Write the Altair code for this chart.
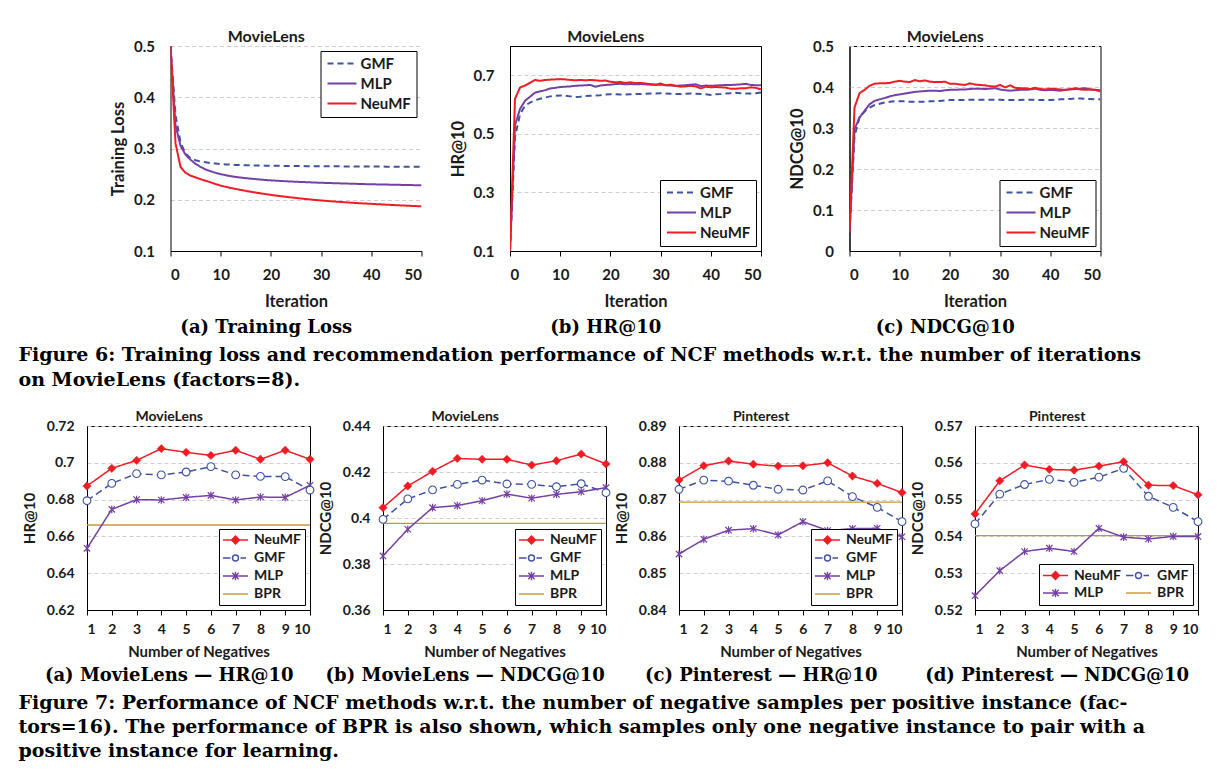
import altair as alt
import pandas as pd

# ---------------- data ----------------
ITER = list(range(51))
TOP_SERIES = ["GMF", "MLP", "NeuMF"]

LOSS_GMF = [0.500, 0.365, 0.312, 0.290, 0.281, 0.277, 0.2745, 0.273, 0.2715, 0.2705,
            0.2695, 0.269, 0.2685, 0.268, 0.2677, 0.2674, 0.2671, 0.2669, 0.2667, 0.2665,
            0.2663, 0.2662, 0.2661, 0.266, 0.2659, 0.2658, 0.2657, 0.2656, 0.2655, 0.2654,
            0.2654, 0.2653, 0.2652, 0.2652, 0.2651, 0.265, 0.265, 0.2649, 0.2649, 0.2648,
            0.2648, 0.2647, 0.2647, 0.2646, 0.2646, 0.2646, 0.2645, 0.2645, 0.2645, 0.2644, 0.2644]
LOSS_MLP = [0.500, 0.345, 0.305, 0.288, 0.278, 0.270, 0.264, 0.259, 0.2555, 0.2525,
            0.250, 0.2478, 0.246, 0.2445, 0.2432, 0.2421, 0.2411, 0.2402, 0.2393, 0.2385,
            0.2378, 0.2372, 0.2366, 0.2361, 0.2356, 0.2351, 0.2347, 0.2343, 0.2339, 0.2335,
            0.2331, 0.2328, 0.2325, 0.2322, 0.2319, 0.2316, 0.2313, 0.231, 0.2307, 0.2304,
            0.2302, 0.230, 0.2298, 0.2296, 0.2294, 0.2292, 0.229, 0.2288, 0.2286, 0.2284, 0.2282]
LOSS_NEUMF = [0.500, 0.310, 0.264, 0.2525, 0.247, 0.2435, 0.240, 0.237, 0.234, 0.2305,
              0.2275, 0.2252, 0.223, 0.221, 0.2191, 0.2173, 0.2156, 0.214, 0.2124, 0.2109,
              0.2095, 0.2082, 0.2069, 0.2057, 0.2046, 0.2035, 0.2024, 0.2014, 0.2004, 0.1995,
              0.1986, 0.1978, 0.197, 0.1963, 0.1956, 0.1949, 0.1942, 0.1936, 0.193, 0.1925,
              0.192, 0.1914, 0.1909, 0.1904, 0.1899, 0.1894, 0.1889, 0.1885, 0.188, 0.1876, 0.1872]

HR_GMF = [0.10, 0.49, 0.567, 0.596, 0.607, 0.615, 0.620, 0.624, 0.628, 0.630,
          0.631, 0.630, 0.628, 0.626, 0.627, 0.629, 0.630, 0.631, 0.632, 0.634,
          0.635, 0.635, 0.634, 0.634, 0.635, 0.636, 0.636, 0.637, 0.638, 0.638,
          0.639, 0.638, 0.637, 0.636, 0.636, 0.637, 0.638, 0.637, 0.636, 0.635,
          0.633, 0.635, 0.636, 0.638, 0.639, 0.640, 0.639, 0.638, 0.638, 0.639, 0.641]
HR_MLP = [0.10, 0.53, 0.585, 0.613, 0.627, 0.641, 0.645, 0.649, 0.655, 0.657,
          0.660, 0.661, 0.662, 0.664, 0.665, 0.666, 0.667, 0.661, 0.665, 0.667,
          0.668, 0.670, 0.671, 0.669, 0.670, 0.669, 0.670, 0.669, 0.668, 0.667,
          0.668, 0.666, 0.665, 0.664, 0.665, 0.666, 0.668, 0.669, 0.663, 0.665,
          0.664, 0.665, 0.666, 0.667, 0.667, 0.668, 0.669, 0.671, 0.667, 0.666, 0.666]
HR_NEUMF = [0.10, 0.62, 0.658, 0.665, 0.675, 0.684, 0.681, 0.684, 0.685, 0.686,
            0.687, 0.686, 0.684, 0.683, 0.684, 0.683, 0.684, 0.683, 0.681, 0.682,
            0.678, 0.676, 0.677, 0.674, 0.676, 0.673, 0.674, 0.672, 0.670, 0.668,
            0.672, 0.666, 0.668, 0.664, 0.661, 0.662, 0.664, 0.662, 0.655, 0.661,
            0.659, 0.660, 0.659, 0.658, 0.654, 0.654, 0.656, 0.656, 0.659, 0.657, 0.652]

NDCG_GMF = [0.045, 0.28, 0.326, 0.340, 0.350, 0.356, 0.359, 0.362, 0.364, 0.365,
            0.365, 0.365, 0.364, 0.364, 0.364, 0.364, 0.365, 0.365, 0.366, 0.367,
            0.368, 0.368, 0.368, 0.368, 0.369, 0.369, 0.369, 0.369, 0.369, 0.369,
            0.369, 0.368, 0.368, 0.368, 0.368, 0.369, 0.369, 0.369, 0.368, 0.368,
            0.368, 0.369, 0.370, 0.370, 0.371, 0.372, 0.372, 0.371, 0.371, 0.370, 0.370]
NDCG_MLP = [0.045, 0.297, 0.326, 0.342, 0.358, 0.366, 0.370, 0.373, 0.377, 0.380,
            0.382, 0.384, 0.386, 0.388, 0.389, 0.390, 0.391, 0.391, 0.390, 0.392,
            0.393, 0.393, 0.394, 0.394, 0.395, 0.396, 0.396, 0.395, 0.396, 0.397,
            0.394, 0.392, 0.391, 0.392, 0.393, 0.393, 0.394, 0.396, 0.393, 0.392,
            0.393, 0.392, 0.391, 0.393, 0.394, 0.395, 0.396, 0.397, 0.394, 0.393, 0.392]
NDCG_NEUMF = [0.045, 0.35, 0.385, 0.393, 0.403, 0.408, 0.409, 0.409, 0.410, 0.413,
              0.415, 0.413, 0.412, 0.417, 0.414, 0.416, 0.413, 0.412, 0.412, 0.413,
              0.408, 0.408, 0.406, 0.405, 0.409, 0.406, 0.405, 0.404, 0.402, 0.401,
              0.405, 0.399, 0.404, 0.398, 0.397, 0.397, 0.395, 0.398, 0.395, 0.394,
              0.396, 0.395, 0.394, 0.393, 0.395, 0.397, 0.394, 0.393, 0.394, 0.393, 0.389]

NEG = list(range(1, 11))
BOT_SERIES = ["NeuMF", "GMF", "MLP"]
LEG_SERIES = ["NeuMF", "GMF", "MLP", "BPR"]
LEG_SERIES_2COL = ["NeuMF", "MLP", "GMF", "BPR"]

ML_HR_NEUMF = [0.6874, 0.697, 0.7013, 0.7077, 0.7057, 0.704, 0.7068, 0.7019, 0.7068, 0.7019]
ML_HR_GMF = [0.6794, 0.6888, 0.6941, 0.6934, 0.695, 0.6979, 0.6934, 0.6926, 0.6925, 0.6852]
ML_HR_MLP = [0.6535, 0.6747, 0.680, 0.6798, 0.6812, 0.6823, 0.6798, 0.6814, 0.6812, 0.6878]
ML_HR_BPR = [0.6662]

ML_NDCG_NEUMF = [0.4045, 0.4139, 0.4203, 0.4259, 0.4255, 0.4255, 0.423, 0.4249, 0.4278, 0.4235]
ML_NDCG_GMF = [0.3994, 0.4083, 0.4122, 0.4146, 0.4165, 0.4148, 0.4146, 0.4136, 0.4149, 0.411]
ML_NDCG_MLP = [0.3835, 0.3951, 0.4045, 0.4054, 0.4075, 0.4104, 0.4086, 0.4103, 0.4114, 0.4132]
ML_NDCG_BPR = [0.3977]

PI_HR_NEUMF = [0.8753, 0.8792, 0.8805, 0.8796, 0.8791, 0.8792, 0.880, 0.8764, 0.8744, 0.8719]
PI_HR_GMF = [0.8728, 0.8753, 0.875, 0.8739, 0.8728, 0.8726, 0.8751, 0.8708, 0.8679, 0.864]
PI_HR_MLP = [0.8552, 0.8592, 0.8617, 0.8621, 0.8604, 0.864, 0.8616, 0.8621, 0.8622, 0.8599]
PI_HR_BPR = [0.8693]

PI_NDCG_NEUMF = [0.5461, 0.5551, 0.5594, 0.5582, 0.558, 0.5591, 0.5603, 0.5539, 0.5538, 0.5513]
PI_NDCG_GMF = [0.5434, 0.5515, 0.5541, 0.5555, 0.5547, 0.5561, 0.5585, 0.5509, 0.5479, 0.544]
PI_NDCG_MLP = [0.5239, 0.5307, 0.5359, 0.5368, 0.5359, 0.5422, 0.5398, 0.5393, 0.540, 0.540]
PI_NDCG_BPR = [0.5402]

TICKS_LOSS = [0.1, 0.2, 0.3, 0.4, 0.5]
TICKS_HR = [0.1, 0.3, 0.5, 0.7]
TICKS_NDCG = [0, 0.1, 0.2, 0.3, 0.4, 0.5]
TICKS_ML_HR = [0.62, 0.64, 0.66, 0.68, 0.7, 0.72]
TICKS_ML_NDCG = [0.36, 0.38, 0.4, 0.42, 0.44]
TICKS_PI_HR = [0.84, 0.85, 0.86, 0.87, 0.88, 0.89]
TICKS_PI_NDCG = [0.52, 0.53, 0.54, 0.55, 0.56, 0.57]
TICKS_ITER = [0, 10, 20, 30, 40, 50]

CAP6 = ["Figure 6: Training loss and recommendation performance of NCF methods w.r.t. the number of iterations",
        "on MovieLens (factors=8)."]
CAP7 = ["Figure 7: Performance of NCF methods w.r.t. the number of negative samples per positive instance (fac-",
        "tors=16). The performance of BPR is also shown, which samples only one negative instance to pair with a",
        "positive instance for learning."]

# ---------------- style ----------------
SANS = "Lato"
SERIF = "DejaVu Serif"
SUB_SIZE = 18
CAP_SIZE = 19
TXT = "#1a1a1a"
RED = "#ee1d25"
BLUE = "#3f52a3"
PURPLE = "#7440a4"
GOLD = "#c9962f"
GRID = "#cfcfcf"

P_NEU = "M-2.5,0L2.5,0M0,-0.8L0.8,0L0,0.8L-0.8,0Z"
P_GMF = "M-2.5,0L-1.0,0M1.0,0L2.1,0M0.6,0A0.6,0.6,0,1,1,-0.6,0A0.6,0.6,0,1,1,0.6,0Z"
P_MLP = "M-2.5,0L2.5,0M-0.65,-0.65L0.65,0.65M0.65,-0.65L-0.65,0.65M0,-0.85L0,0.85"
P_BPR = "M-2.5,0L2.5,0"
P_AST = "M-1,-1L1,1M1,-1L-1,1M0,-1.2L0,1.2"
LEG_SHAPE = {"NeuMF": P_NEU, "GMF": P_GMF, "MLP": P_MLP, "BPR": P_BPR}
LEG_FILL = {"NeuMF": RED, "GMF": "white", "MLP": "white", "BPR": "white"}
LEG_STROKE = {"NeuMF": RED, "GMF": BLUE, "MLP": PURPLE, "BPR": GOLD}

CH = ["color", "strokeDash", "shape", "fill", "stroke"]


def indep(c):
    kw = {k: "independent" for k in CH}
    return c.resolve_scale(**kw).resolve_legend(**kw)


def blank(w, h):
    # an empty, invisible view used only to reserve horizontal room
    return alt.Chart(pd.DataFrame({"t": [""]})).mark_text().encode(text="t:N").properties(
        width=w, height=h)


def top_panel(gmf, mlp, neu, ytitle, ydom, yticks, legend_orient, framed, caption, title_offset):
    df = pd.DataFrame({
        "Iteration": ITER * 3,
        "value": gmf + mlp + neu,
        "series": ["GMF"] * len(ITER) + ["MLP"] * len(ITER) + ["NeuMF"] * len(ITER),
    })
    leg = alt.Legend(title=None, orient=legend_orient, offset=5,
                     symbolType="M-2.9,0L2.9,0", symbolSize=100, symbolStrokeWidth=2,
                     symbolOffset=9, labelOffset=11,
                     labelFont=SANS, labelFontSize=15, labelFontWeight="bold", labelColor=TXT,
                     strokeColor="black", fillColor="white", padding=5, rowPadding=4,
                     cornerRadius=0)
    chart = alt.Chart(df).mark_line(strokeWidth=2, clip=True).encode(
        x=alt.X("Iteration:Q", scale=alt.Scale(domain=[0, 50], nice=False),
                axis=alt.Axis(values=TICKS_ITER, format="d", grid=False, tickSize=5,
                              labelPadding=11, titlePadding=11, labelFontSize=15,
                              titleFontSize=16.5)),
        y=alt.Y("value:Q", scale=alt.Scale(domain=ydom, nice=False, zero=False),
                axis=alt.Axis(values=yticks, format="~g", title=ytitle, grid=True,
                              gridColor=GRID, gridDash=[4, 3], ticks=False, tickSize=0,
                              labelPadding=16, titlePadding=7, labelFontSize=15,
                              titleFontSize=16.5)),
        color=alt.Color("series:N", scale=alt.Scale(domain=TOP_SERIES, range=[BLUE, PURPLE, RED]),
                        legend=leg),
        strokeDash=alt.StrokeDash("series:N",
                                  scale=alt.Scale(domain=TOP_SERIES, range=[[6, 4], [1, 0], [1, 0]]),
                                  legend=leg),
    ).properties(
        width=251, height=205,
        title=alt.TitleParams("MovieLens", font=SANS, fontSize=16, fontWeight="bold",
                              color=TXT, frame="bounds", anchor="middle", offset=title_offset),
        view=alt.ViewBackground(stroke="black" if framed else None, strokeWidth=1),
    )
    return indep(alt.vconcat(chart)).properties(
        title=alt.TitleParams(caption, orient="bottom", anchor="middle", frame="bounds",
                              font=SERIF, fontSize=SUB_SIZE, fontWeight="bold", color="black",
                              offset=9))


def bottom_panel(title, neu, gmf, mlp, bpr, ytitle, ydom, yticks, caption, cols=1):
    df = pd.DataFrame({
        "neg": NEG * 3,
        "value": neu + gmf + mlp,
        "series": ["NeuMF"] * 10 + ["GMF"] * 10 + ["MLP"] * 10,
    })
    x = alt.X("neg:Q", title="Number of Negatives",
              scale=alt.Scale(domain=[1, 10], nice=False),
              axis=alt.Axis(values=NEG, format="d", grid=False, tickSize=5, labelPadding=7,
                            titlePadding=8, labelFontSize=14, titleFontSize=15))
    y = alt.Y("value:Q", title=ytitle, scale=alt.Scale(domain=ydom, nice=False, zero=False),
              axis=alt.Axis(values=yticks, format="~g", grid=True, gridColor=GRID,
                            gridDash=[4, 3], ticks=False, tickSize=0, labelPadding=13,
                            titlePadding=9, labelFontSize=14, titleFontSize=15))
    lines = alt.Chart(df).mark_line(strokeWidth=1.5).encode(
        x=x, y=y,
        color=alt.Color("series:N", scale=alt.Scale(domain=BOT_SERIES, range=[RED, BLUE, PURPLE]),
                        legend=None),
        strokeDash=alt.StrokeDash("series:N",
                                  scale=alt.Scale(domain=BOT_SERIES, range=[[1, 0], [7, 4], [1, 0]]),
                                  legend=None),
    )
    rule = alt.Chart(pd.DataFrame({"value": bpr})).mark_rule(color=GOLD, strokeWidth=1.3).encode(y=y)
    neu_pts = alt.Chart(df).transform_filter(alt.datum.series == "NeuMF").mark_point(
        shape="diamond", filled=True, fill=RED, stroke=RED, strokeWidth=0.5, size=70, opacity=1
    ).encode(x=x, y=y)
    gmf_pts = alt.Chart(df).transform_filter(alt.datum.series == "GMF").mark_point(
        shape="circle", filled=True, fill="white", stroke=BLUE, strokeWidth=1.1, size=60, opacity=1
    ).encode(x=x, y=y)
    mlp_pts = alt.Chart(df).transform_filter(alt.datum.series == "MLP").mark_point(
        shape=P_AST, filled=False, stroke=PURPLE, strokeWidth=1.2, size=40, opacity=1
    ).encode(x=x, y=y)
    order = LEG_SERIES if cols == 1 else LEG_SERIES_2COL
    leg = alt.Legend(title=None, orient="bottom-right", offset=5, columns=cols,
                     gridAlign="all",
                     symbolSize=100, symbolStrokeWidth=1.4, symbolOpacity=1,
                     symbolOffset=5.5, labelOffset=11.5, columnPadding=2,
                     labelFont=SANS, labelFontSize=14, labelFontWeight="bold", labelColor=TXT,
                     strokeColor="black", fillColor="white", padding=4, rowPadding=2,
                     cornerRadius=0)
    leg_layer = alt.Chart(pd.DataFrame({"series": order})).mark_point(
        opacity=0, filled=True
    ).encode(
        shape=alt.Shape("series:N", scale=alt.Scale(domain=order, range=[LEG_SHAPE[s] for s in order]),
                        legend=leg),
        fill=alt.Fill("series:N", scale=alt.Scale(domain=order, range=[LEG_FILL[s] for s in order]),
                      legend=leg),
        stroke=alt.Stroke("series:N", scale=alt.Scale(domain=order, range=[LEG_STROKE[s] for s in order]),
                          legend=leg),
    )
    chart = alt.layer(rule, lines, mlp_pts, gmf_pts, neu_pts, leg_layer).properties(
        width=223, height=184,
        title=alt.TitleParams(title, font=SANS, fontSize=14, fontWeight="bold", color=TXT,
                              frame="bounds", anchor="middle", offset=-5),
        view=alt.ViewBackground(stroke="black", strokeWidth=1),
    )
    return indep(alt.vconcat(chart)).properties(
        title=alt.TitleParams(caption, orient="bottom", anchor="middle", frame="bounds",
                              font=SERIF, fontSize=SUB_SIZE, fontWeight="bold", color="black",
                              offset=7))


def caption_block(lines, line_height, gap):
    return blank(1170, gap).properties(
        title=alt.TitleParams(lines, orient="top", anchor="start", frame="group", dx=-1.5,
                              font=SERIF, fontSize=CAP_SIZE, fontWeight="bold", color="black",
                              offset=0, lineHeight=line_height, align="left"),
    )


ta = top_panel(LOSS_GMF, LOSS_MLP, LOSS_NEUMF, "Training Loss", [0.1, 0.5], TICKS_LOSS,
               "top-right", False, "(a) Training Loss", -6)
tb = top_panel(HR_GMF, HR_MLP, HR_NEUMF, "HR@10", [0.1, 0.8], TICKS_HR,
               "bottom-right", True, "(b) HR@10", 1.5)
tc = top_panel(NDCG_GMF, NDCG_MLP, NDCG_NEUMF, "NDCG@10", [0, 0.5], TICKS_NDCG,
               "bottom-right", True, "(c) NDCG@10", -6)

ba = bottom_panel("MovieLens", ML_HR_NEUMF, ML_HR_GMF, ML_HR_MLP, ML_HR_BPR, "HR@10",
                  [0.62, 0.72], TICKS_ML_HR, "(a) MovieLens \u2014 HR@10")
bb = bottom_panel("MovieLens", ML_NDCG_NEUMF, ML_NDCG_GMF, ML_NDCG_MLP, ML_NDCG_BPR, "NDCG@10",
                  [0.36, 0.44], TICKS_ML_NDCG, "(b) MovieLens \u2014 NDCG@10")
bc = bottom_panel("Pinterest", PI_HR_NEUMF, PI_HR_GMF, PI_HR_MLP, PI_HR_BPR, "HR@10",
                  [0.84, 0.89], TICKS_PI_HR, "(c) Pinterest \u2014 HR@10")
bd = bottom_panel("Pinterest", PI_NDCG_NEUMF, PI_NDCG_GMF, PI_NDCG_MLP, PI_NDCG_BPR, "NDCG@10",
                  [0.52, 0.57], TICKS_PI_NDCG, "(d) Pinterest \u2014 NDCG@10", cols=2)

row1 = indep(alt.hconcat(blank(64, 1), ta, tb, tc, spacing=26.5))
row2 = indep(alt.hconcat(blank(1, 1), ba, bb, bc, bd, spacing=0))
cap1 = caption_block(CAP6, 25, 7)
cap2 = caption_block(CAP7, 24, 1)

chart = indep(alt.concat(row1, cap1, row2, cap2, columns=1, spacing=8)).properties(
    padding={"left": 10, "top": 20, "right": 0, "bottom": 0}
).configure(font=SANS).configure_axis(
    labelFont=SANS, labelFontWeight="bold", labelColor=TXT,
    titleFont=SANS, titleFontWeight="bold", titleColor=TXT,
    domainColor="black", tickColor="black", domainWidth=1,
).configure_view(stroke=None)

chart.save("out.html", embed_options={"renderer": "svg", "actions": False})
